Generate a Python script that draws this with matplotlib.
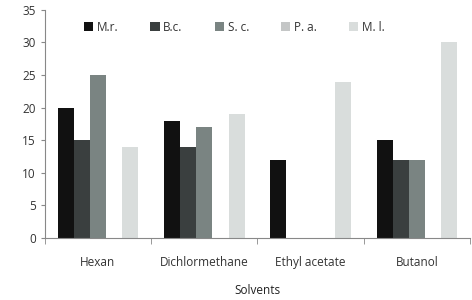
import numpy as np
import matplotlib.pyplot as plt

# data
solvents = ["Hexan", "Dichlormethane", "Ethyl acetate", "Butanol"]
species = ["M.r.", "B.c.", "S. c.", "P. a.", "M. l."]
mr = [20, 18, 12, 15]
bc = [15, 14, 0, 12]
sc = [25, 17, 0, 12]
pa = [0, 0, 0, 0]
ml = [14, 19, 24, 30]
values = [mr, bc, sc, pa, ml]
colors = ["#111111", "#3a3f3f", "#7a8482", "#c4c6c6", "#d9dddc"]

plt.rcParams['font.family'] = ['Open Sans', 'DejaVu Sans']

fig = plt.figure(figsize=(4.72, 3.0), dpi=100)
ax = fig.add_axes([0.095, 0.207, 0.901, 0.76])

x = np.arange(len(solvents))
w = 0.152
for i, (vals, c, lab) in enumerate(zip(values, colors, species)):
    ax.bar(x - 2 * w + i * w, vals, width=w, color=c, label=lab)

ax.set_xlim(-0.5, 3.5)
ax.set_ylim(0, 35)
ax.set_yticks(range(0, 36, 5))
ax.set_xticks(x)
ax.set_xticklabels(solvents)
ax.set_xticks(np.arange(-0.5, 4.0, 1), minor=True)
ax.tick_params(axis='x', which='major', length=0, pad=13, labelsize=8.5, colors='#333333')
ax.tick_params(axis='x', which='minor', length=4, color='#888888')
ax.tick_params(axis='y', length=3, color='#888888', labelsize=8.5, labelcolor='#333333')
for s in ['top', 'right']:
    ax.spines[s].set_visible(False)
for s in ['left', 'bottom']:
    ax.spines[s].set_color('#888888')
ax.set_xlabel("Solvents", fontsize=8.5, color='#222222', labelpad=11)

ax.legend(loc='upper center', bbox_to_anchor=(0.445, 1.0), ncol=5, frameon=False,
          fontsize=8.5, handlelength=0.8, handleheight=0.8, handletextpad=0.3,
          columnspacing=2.7, labelcolor='#333333')

fig.savefig("out.png")
